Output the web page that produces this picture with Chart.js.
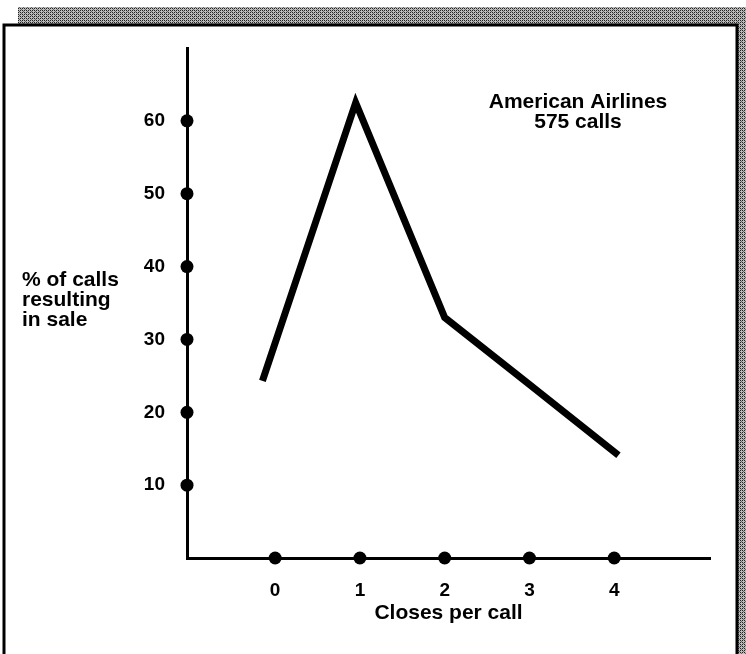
<!DOCTYPE html>
<html>
<head>
<meta charset="utf-8">
<script src="https://cdn.jsdelivr.net/npm/chart.js@4.4.0/dist/chart.umd.min.js"></script>
<style>
  html, body { margin: 0; padding: 0; background: #fff; }
  #wrap { width: 746px; height: 654px; position: relative; }
</style>
</head>
<body>
<div id="wrap"><canvas id="closesChart"></canvas></div>
<script>
// ----------------- Données -----------------//
const closesPerCall = [-0.15, 0.95, 2, 3, 4.05];
const pctSale = [24.3, 62.5, 33, 23.8, 14.1];          // % of calls resulting in sale
const xTicks = [0, 1, 2, 3, 4];
const yTicks = [10, 20, 30, 40, 50, 60];
const noteLines = ['American Airlines', '575 calls'];
const yTitleLines = ['% of calls', 'resulting', 'in sale'];

const FONT = "'Liberation Sans', Arial, sans-serif";

// motif gris pour l'ombre du cadre
function makeHatch() {
    const c = document.createElement('canvas');
    c.width = 4; c.height = 4;
    const g = c.getContext('2d');
    g.fillStyle = '#bbb';
    g.fillRect(0, 0, 4, 4);
    g.fillStyle = '#222';
    g.fillRect(0, 0, 1, 1); g.fillRect(2, 2, 1, 1);
    g.fillRect(2, 0, 1, 1); g.fillRect(0, 2, 1, 1);
    g.fillStyle = '#666';
    g.fillRect(1, 1, 1, 1); g.fillRect(3, 3, 1, 1);
    return c;
}

// Cadre + ombre
const framePlugin = {
    id: 'frame',
    beforeDraw(chart) {
        const ctx = chart.ctx;
        ctx.save();
        ctx.fillStyle = '#fff';
        ctx.fillRect(0, 0, chart.width, chart.height);
        ctx.fillStyle = ctx.createPattern(makeHatch(), 'repeat');
        ctx.fillRect(18, 7, 728, 17);
        ctx.fillRect(737, 7, 9, 647);
        ctx.strokeStyle = '#000';
        ctx.lineWidth = 3;
        ctx.beginPath();
        ctx.moveTo(4, 660);
        ctx.lineTo(4, 25);
        ctx.lineTo(737, 25);
        ctx.lineTo(737, 660);
        ctx.stroke();
        ctx.restore();
    }
};

// Points noirs sur les axes + textes
const decoPlugin = {
    id: 'deco',
    afterDraw(chart) {
        const ctx = chart.ctx;
        const xs = chart.scales.x, ys = chart.scales.y;
        const area = chart.chartArea;
        ctx.save();
        ctx.fillStyle = '#000';
        yTicks.forEach(v => {
            ctx.beginPath();
            ctx.arc(area.left, ys.getPixelForValue(v), 6.5, 0, Math.PI * 2);
            ctx.fill();
        });
        xTicks.forEach(v => {
            ctx.beginPath();
            ctx.arc(xs.getPixelForValue(v), area.bottom, 6.5, 0, Math.PI * 2);
            ctx.fill();
        });
        ctx.font = 'bold 21px ' + FONT;
        ctx.textBaseline = 'middle';
        ctx.textAlign = 'left';
        yTitleLines.forEach((t, i) => ctx.fillText(t, 22, 280 + i * 20));
        ctx.textAlign = 'center';
        noteLines.forEach((t, i) => ctx.fillText(t, 578, 102 + i * 20));
        ctx.restore();
    }
};

new Chart(document.getElementById('closesChart'), {
    type: 'line',
    data: {
        datasets: [{
            label: 'American Airlines',
            data: closesPerCall.map((x, i) => ({ x: x, y: pctSale[i] })),
            borderColor: '#000',
            borderWidth: 7,
            tension: 0,
            pointRadius: 0,
            borderJoinStyle: 'miter',
            borderCapStyle: 'butt'
        }]
    },
    options: {
        responsive: true,
        maintainAspectRatio: false,
        animation: false,
        layout: { padding: { left: 0, top: 48, right: 36, bottom: 24 } },
        plugins: { legend: { display: false }, tooltip: { enabled: false } },
        scales: {
            x: {
                type: 'linear',
                min: -1.04,
                max: 5.13,
                grid: { display: false },
                border: { display: true, color: '#000', width: 3 },
                afterBuildTicks: s => { s.ticks = xTicks.map(v => ({ value: v })); },
                ticks: {
                    color: '#000',
                    font: { family: FONT, size: 19, weight: 'bold' },
                    padding: 13
                },
                title: {
                    display: true,
                    text: 'Closes per call',
                    color: '#000',
                    font: { family: FONT, size: 21, weight: 'bold' },
                    padding: { top: 2 }
                },
                afterFit: s => { s.height = 72; }
            },
            y: {
                min: 0,
                max: 70,
                grid: { display: false },
                border: { display: true, color: '#000', width: 3 },
                afterBuildTicks: s => { s.ticks = yTicks.map(v => ({ value: v })); },
                ticks: {
                    color: '#000',
                    font: { family: FONT, size: 19, weight: 'bold' },
                    padding: 14
                },
                afterFit: s => { s.width = 187; }
            }
        }
    },
    plugins: [framePlugin, decoPlugin]
});
</script>
</body>
</html>
